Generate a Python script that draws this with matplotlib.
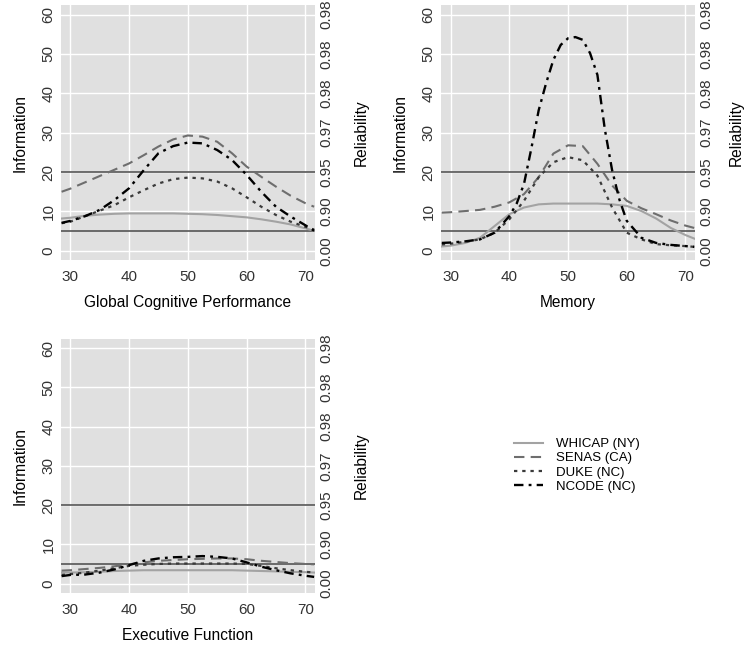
import matplotlib
matplotlib.use("Agg")
import matplotlib.pyplot as plt

plt.rcParams['font.family'] = ['Liberation Sans', 'DejaVu Sans']

# common grid of theta values the curves were read at
xs = [28.5, 30, 32.5, 35, 37.5, 40, 42.5, 45, 47.5, 50, 52.5, 55, 57.5, 60, 62.5, 65, 67.5, 70, 71.5]

# Global cognitive performance
glob_whicap = [8.2, 8.4, 8.9, 9.2, 9.4, 9.5, 9.5, 9.5, 9.5, 9.4, 9.3, 9.1, 8.8, 8.5, 8.0, 7.4, 6.7, 5.7, 5.1]
glob_senas = [15.0, 15.8, 17.4, 19.0, 20.6, 22.2, 24.3, 26.5, 28.3, 29.3, 29.0, 27.7, 24.8, 21.4, 18.8, 16.3, 14.0, 12.1, 11.2]
glob_duke = [7.0, 7.4, 8.8, 10.2, 11.6, 13.6, 15.4, 17.1, 18.2, 18.6, 18.4, 17.6, 15.9, 13.6, 11.2, 9.1, 7.4, 6.1, 5.4]
glob_ncode = [7.1, 7.6, 8.8, 10.4, 12.9, 15.9, 20.5, 24.8, 26.6, 27.5, 27.3, 25.6, 23.1, 19.3, 15.0, 11.2, 8.7, 6.5, 5.1]

# Memory
mem_whicap = [1.1, 1.3, 2.0, 3.3, 6.3, 9.3, 11.0, 11.8, 12.0, 12.0, 12.0, 12.0, 11.8, 11.4, 10.1, 8.2, 5.8, 4.0, 3.1]
mem_senas = [9.7, 9.8, 10.1, 10.4, 11.2, 12.3, 14.4, 18.7, 24.7, 26.8, 26.6, 22.1, 16.6, 12.7, 10.8, 9.3, 7.7, 6.4, 5.8]
mem_duke = [1.6, 1.8, 2.3, 2.9, 4.6, 8.0, 12.7, 18.7, 22.5, 23.8, 23.0, 19.1, 11.0, 4.6, 2.9, 1.7, 1.4, 1.2, 1.0]
xs_mem_ncode = [28.5, 30, 32.5, 35, 37.5, 40, 41.25, 42.5, 43.75, 45, 46.25, 47.5, 48.75, 50, 51.25,
                52.5, 53.75, 55, 56.25, 57.5, 58.75, 60, 62.5, 65, 67.5, 70, 71.5]
mem_ncode = [2.0, 2.1, 2.4, 2.9, 4.6, 8.8, 12.0, 17.0, 26.0, 35.7, 42.5, 48.5, 52.3, 54.0, 54.3,
             53.6, 50.2, 44.7, 31.0, 20.5, 13.0, 7.6, 3.3, 2.0, 1.5, 1.2, 1.0]

# Executive function
exe_whicap = [2.8, 2.8, 2.9, 3.0, 3.2, 3.3, 3.4, 3.4, 3.4, 3.4, 3.4, 3.4, 3.4, 3.3, 3.2, 3.1, 3.0, 2.9, 2.8]
exe_senas = [3.3, 3.4, 3.7, 4.0, 4.4, 4.9, 5.4, 5.8, 6.0, 6.2, 6.3, 6.4, 6.4, 6.2, 5.8, 5.5, 5.2, 5.0, 4.9]
exe_duke = [2.2, 2.4, 2.8, 3.3, 3.9, 4.5, 4.8, 5.0, 5.1, 5.1, 5.1, 5.1, 5.1, 5.0, 4.5, 3.9, 3.4, 3.0, 2.8]
exe_ncode = [1.9, 2.2, 2.3, 2.8, 3.6, 4.7, 5.8, 6.4, 6.7, 6.8, 7.0, 6.8, 6.4, 5.4, 4.3, 3.4, 2.6, 2.0, 1.7]

ref_lines = [5, 20]
yticks = [0, 10, 20, 30, 40, 50, 60]
rel_labels = ['0.00', '0.90', '0.95', '0.97', '0.98', '0.98', '0.98']
xticks = [30, 40, 50, 60, 70]

styles = {
    'WHICAP (NY)': dict(color='#a3a3a3', lw=1.5, ls='-'),
    'SENAS (CA)': dict(color='#6e6e6e', lw=1.5, ls=(0, (5, 3))),
    'DUKE (NC)': dict(color='#3a3a3a', lw=1.6, ls=(0, (1.5, 2.2))),
    'NCODE (NC)': dict(color='#000000', lw=1.7, ls=(0, (4, 2.2, 1.2, 2.2))),
}


def draw_panel(ax, curves, xlabel, rpad=15):
    ax.set_facecolor('#e0e0e0')
    for s in ax.spines.values():
        s.set_visible(False)
    ax.set_xlim(28.4, 71.6)
    ax.set_ylim(-2.4, 62.4)
    ax.set_xticks(xticks)
    ax.set_yticks(yticks)
    ax.grid(True, color='white', lw=1.0)
    ax.set_axisbelow(True)
    for y in ref_lines:
        ax.axhline(y, color='#555555', lw=1.2, zorder=2)
    for name, (x, y) in curves.items():
        ax.plot(x, y, label=name, zorder=3, **styles[name])
    ax.tick_params(axis='both', length=0, labelsize=11, colors='#333333')
    ax.tick_params(axis='x', pad=7)
    ax.tick_params(axis='y', pad=4, labelrotation=90)
    plt.setp(ax.get_yticklabels(), va='center')
    ax.set_xlabel(xlabel, fontsize=11.2, labelpad=8)
    ax.set_ylabel('Information', fontsize=11.2, labelpad=10)

    ax2 = ax.twinx()
    ax2.set_ylim(ax.get_ylim())
    ax2.set_yticks(yticks)
    ax2.set_yticklabels(rel_labels)
    for s in ax2.spines.values():
        s.set_visible(False)
    ax2.tick_params(axis='y', length=0, labelsize=11, pad=3, labelrotation=90, colors='#333333')
    plt.setp(ax2.get_yticklabels(), va='center')
    ax2.set_ylabel('Reliability', fontsize=11.2, labelpad=rpad)


fig = plt.figure(figsize=(7.44, 6.49), dpi=100)
ax1 = fig.add_axes([0.082, 0.599, 0.341, 0.393])
ax2 = fig.add_axes([0.593, 0.599, 0.341, 0.393])
ax3 = fig.add_axes([0.082, 0.0863, 0.341, 0.392])

draw_panel(ax1, {
    'WHICAP (NY)': (xs, glob_whicap),
    'SENAS (CA)': (xs, glob_senas),
    'DUKE (NC)': (xs, glob_duke),
    'NCODE (NC)': (xs, glob_ncode),
}, 'Global Cognitive Performance')

draw_panel(ax2, {
    'WHICAP (NY)': (xs, mem_whicap),
    'SENAS (CA)': (xs, mem_senas),
    'DUKE (NC)': (xs, mem_duke),
    'NCODE (NC)': (xs_mem_ncode, mem_ncode),
}, 'Memory', rpad=11)

draw_panel(ax3, {
    'WHICAP (NY)': (xs, exe_whicap),
    'SENAS (CA)': (xs, exe_senas),
    'DUKE (NC)': (xs, exe_duke),
    'NCODE (NC)': (xs, exe_ncode),
}, 'Executive Function')

handles, labels = ax1.get_legend_handles_labels()
fig.legend(handles, labels, loc='center left', bbox_to_anchor=(0.675, 0.283),
           frameon=False, fontsize=9.5, handlelength=2.2, labelspacing=0.15, handletextpad=1.0)

fig.savefig('out.png', dpi=100)
